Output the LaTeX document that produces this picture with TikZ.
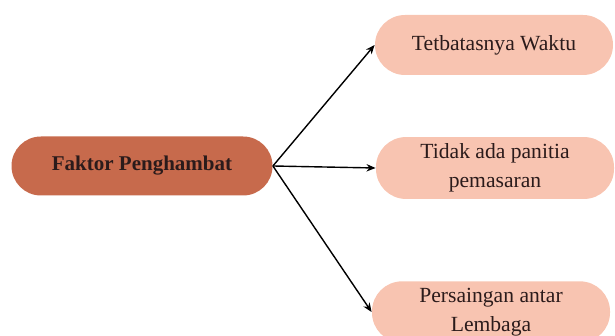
\documentclass[tikz,border=0pt]{standalone}
\usepackage{fontspec}
\setmainfont{Liberation Serif}
\usetikzlibrary{arrows.meta,positioning}
\definecolor{rootBrown} {HTML}{C76A4C}
\definecolor{leafPink}  {HTML}{F8C4B1}
\definecolor{inkDark}   {HTML}{2B1B1B}
\tikzset{
  arrow/.style={-{Stealth[length=1.6mm,width=1.3mm]},draw=black,line width=0.7pt},
  root/.style={rectangle,rounded corners=14.7pt,draw=none,fill=rootBrown,text=inkDark,
    minimum width=130.5pt,minimum height=29.5pt,align=center,font=\bfseries\fontsize{10.5}{13}\selectfont},
  leaf/.style={rectangle,rounded corners=15pt,draw=none,fill=leafPink,text=inkDark,
    minimum width=119pt,minimum height=30pt,align=center,font=\fontsize{10.8}{14.5}\selectfont},
}
\begin{document}
\begin{tikzpicture}[x=0.5pt,y=0.5pt]

\useasboundingbox (0,0) rectangle (615,336);

\node[root] (faktor) at (142,170) {Faktor Penghambat};

\node[leaf] (waktu)    at (494,291) {Tetbatasnya Waktu};
\node[leaf] (panitia)  at (495,168) {Tidak ada panitia\\pemasaran};
\node[leaf] (lembaga)  at (491,24)  {Persaingan antar\\Lembaga};

\draw[arrow] (faktor.east) -- (waktu.west);
\draw[arrow] (faktor.east) -- (panitia.west);
\draw[arrow] (faktor.east) -- (lembaga.west);

\end{tikzpicture}
\end{document}
